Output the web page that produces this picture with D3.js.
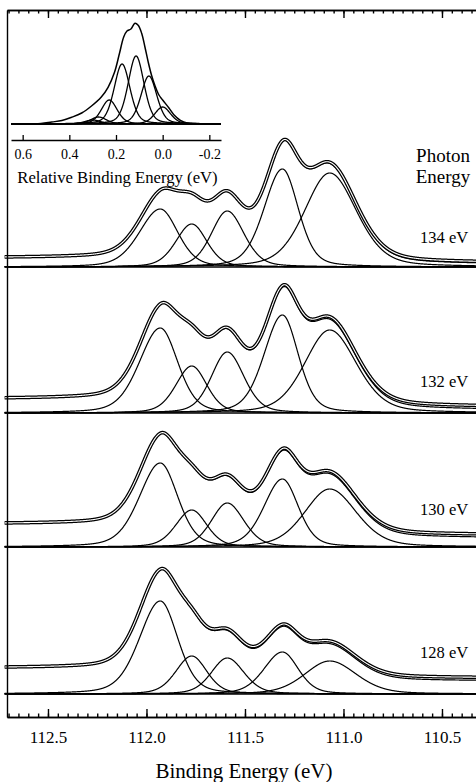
<!DOCTYPE html>
<html>
<head>
<meta charset="utf-8">
<script src="https://cdn.jsdelivr.net/npm/d3@7"></script>
<style>
  body { margin: 0; background: #fff; }
  text { font-family: "Liberation Serif", "Times New Roman", serif; fill: #000; }
</style>
</head>
<body>
<div id="chart"></div>
<script>
// spectra, top to bottom
var photonLabels = ["134 eV", "132 eV", "130 eV", "128 eV"];
// baseline of each spectrum in the stacked intensity scale
var offsets = [450, 304, 170, 23];

// fitted components: centre (eV), half widths (eV) on the high and low BE side
var peakPos = [111.93, 111.77, 111.59, 111.31, 111.07];
var peakHWHigh = [0.125, 0.095, 0.095, 0.11, 0.15];
var peakHWLow = [0.105, 0.09, 0.10, 0.095, 0.16];
var lorentzPart = 0.3;

// component heights
var heights134 = [58, 43, 56, 98, 94];
var heights132 = [85, 47, 61, 98, 83];
var heights130 = [84, 37, 44, 68, 58];
var heights128 = [93, 38, 36, 42, 33];
var panelHeights = [heights134, heights132, heights130, heights128];

// background level on the high and low binding energy side
var bgHigh = [9, 14, 23, 26];
var bgLow = [4, 6, 12, 16];
// the fit total sits a little under the data on the low BE side
var fitGap = [1.5, 3, 3, 3];

// inset: vibrational components (relative BE, eV) and heights
var insetPos = [0.30, 0.275, 0.229, 0.174, 0.114, 0.059, 0.0];
var insetHeights = [4, 7, 24, 60, 68, 48, 17];
var insetHW = 0.04;
// inset envelope
var insetEnvR = [0.65, 0.545, 0.475, 0.432, 0.39, 0.347, 0.305, 0.263, 0.234, 0.206, 0.185, 0.167,
                 0.153, 0.136, 0.119, 0.105, 0.09, 0.076, 0.062, 0.048, 0.034, 0.016, 0.0, -0.027,
                 -0.048, -0.076, -0.105, -0.25];
var insetEnvH = [0, 0, 2, 3.5, 6.7, 11, 18, 27, 36.7, 52, 70.7, 87,
                 93, 95, 100.7, 98.7, 90.7, 77, 62, 49, 39, 29, 24, 16,
                 9.3, 3.7, 1, 0];

var mainTicks = [112.5, 112.0, 111.5, 111.0, 110.5];
var insetTicks = [0.6, 0.4, 0.2, 0.0, -0.2];

var W = 476, H = 782;
var mLeft = 7, mRight = 480, mTop = 10, mBottom = 717;
var serif = '"Liberation Serif", "Times New Roman", serif';

var svg = d3.select("#chart").append("svg")
    .attr("width", W)
    .attr("height", H);

var x = d3.scaleLinear()
    .domain([112.708, 110.307])
    .range([mLeft, mRight]);

var y = d3.scaleLinear()
    .domain([0, mBottom - mTop])
    .range([mBottom, mTop]);

function shape(d, hw) {
  var u = d / hw;
  return lorentzPart / (1 + u * u) + (1 - lorentzPart) * Math.exp(-Math.LN2 * u * u);
}

// energy grid, low BE to high BE
var grid = [];
for (var k = 0; k <= 2420; k++) grid.push(110.30 + k * 0.001);

var plot = svg.append("g");

var lineFor = function(off) {
  return d3.line()
    .x(function(d) { return x(d.e); })
    .y(function(d) { return y(off + d.v); });
};

panelHeights.forEach(function(hs, i) {
  var off = offsets[i];
  var comps = hs.map(function(h, j) {
    return grid.map(function(e) {
      var d = e - peakPos[j];
      return { e: e, v: h * shape(d, d > 0 ? peakHWHigh[j] : peakHWLow[j]) };
    });
  });
  var sum = grid.map(function(e, k) {
    return d3.sum(comps, function(c) { return c[k].v; });
  });
  var cum = [], acc = 0;
  sum.forEach(function(v) { acc += v; cum.push(acc); });
  var data = sum.map(function(v, k) {
    return { e: grid[k], v: v + bgLow[i] + (bgHigh[i] - bgLow[i]) * cum[k] / acc };
  });
  var fit = sum.map(function(v, k) {
    var lo = bgLow[i] - fitGap[i];
    return { e: grid[k], v: v + lo + (bgHigh[i] - lo) * cum[k] / acc };
  });

  var g = plot.append("g");
  g.append("line")
    .attr("x1", mLeft).attr("x2", mRight)
    .attr("y1", y(off)).attr("y2", y(off))
    .attr("stroke", "#000").attr("stroke-width", 1.5);

  comps.forEach(function(c) {
    g.append("path").attr("d", lineFor(off)(c))
      .attr("fill", "none").attr("stroke", "#000").attr("stroke-width", 1.2);
  });
  g.append("path").attr("d", lineFor(off)(fit))
    .attr("fill", "none").attr("stroke", "#000").attr("stroke-width", 1.2);

  g.append("path").attr("d", lineFor(off)(data))
    .attr("fill", "none").attr("stroke", "#000").attr("stroke-width", 3.6);
  g.append("path").attr("d", lineFor(off)(data))
    .attr("fill", "none").attr("stroke", "#fff").attr("stroke-width", 1.1);

  g.append("text")
    .attr("x", 420)
    .attr("y", [243, 387, 515, 658][i])
    .attr("font-size", 16.5)
    .text(photonLabels[i]);
});

// frame: bottom axis with labels, top axis, left line
var minor = d3.range(0, 49).map(function(i) { return Math.round((110.30 + i * 0.05) * 100) / 100; })
  .filter(function(v) { return v > 110.307 && v < 112.708; });

svg.append("g")
  .attr("transform", "translate(0," + mBottom + ")")
  .call(d3.axisBottom(x).tickValues(minor).tickSize(-3.5).tickSizeOuter(0).tickFormat(""))
  .call(function(g) { g.selectAll("line,path").attr("stroke-width", 1.4); });

svg.append("g")
  .attr("transform", "translate(0," + mBottom + ")")
  .call(d3.axisBottom(x).tickValues(mainTicks).tickSize(-8).tickSizeOuter(0).tickPadding(14)
        .tickFormat(function(d) { return d.toFixed(1); }))
  .call(function(g) {
    g.attr("font-family", serif);
    g.selectAll("line,path").attr("stroke-width", 1.4);
    g.selectAll("text").attr("font-size", 17);
  });

svg.append("g")
  .attr("transform", "translate(0," + mTop + ")")
  .call(d3.axisTop(x).tickValues(minor).tickSize(-3.5).tickSizeOuter(0).tickFormat(""))
  .call(function(g) { g.selectAll("line,path").attr("stroke-width", 1.4); });

svg.append("g")
  .attr("transform", "translate(0," + mTop + ")")
  .call(d3.axisTop(x).tickValues(mainTicks).tickSize(-8).tickSizeOuter(0).tickFormat(""))
  .call(function(g) { g.selectAll("line,path").attr("stroke-width", 1.4); });

svg.append("g")
  .attr("transform", "translate(" + mLeft + ",0)")
  .call(d3.axisLeft(y).tickValues([]).tickSizeOuter(0))
  .call(function(g) { g.selectAll("path").attr("stroke-width", 1.4); });

svg.append("text")
  .attr("x", 244).attr("y", 778)
  .attr("text-anchor", "middle")
  .attr("font-size", 21)
  .text("Binding Energy (eV)");

svg.append("text")
  .attr("x", 443).attr("y", 162)
  .attr("text-anchor", "middle")
  .attr("font-size", 19)
  .text("Photon");
svg.append("text")
  .attr("x", 443).attr("y", 183)
  .attr("text-anchor", "middle")
  .attr("font-size", 19)
  .text("Energy");

// inset
var rx = d3.scaleLinear().domain([0.65, -0.25]).range([11, 221]);
var ry = d3.scaleLinear().domain([0, 110]).range([124, 14]);
var inset = svg.append("g");
var rgrid = [];
for (var k2 = 0; k2 <= 900; k2++) rgrid.push(0.65 - k2 * 0.001);

var rline = d3.line().x(function(d) { return rx(d.r); }).y(function(d) { return ry(d.v); });

inset.append("line")
  .attr("x1", 11).attr("x2", 221)
  .attr("y1", ry(0)).attr("y2", ry(0))
  .attr("stroke", "#000").attr("stroke-width", 1.6);

insetPos.forEach(function(p, j) {
  var pts = rgrid.map(function(r) { return { r: r, v: insetHeights[j] * shape(r - p, insetHW) }; });
  inset.append("path").attr("d", rline(pts))
    .attr("fill", "none").attr("stroke", "#000").attr("stroke-width", 1.3);
});

var env = insetEnvR.map(function(r, k) { return { r: r, v: insetEnvH[k] }; });
inset.append("path")
  .attr("d", rline.curve(d3.curveCatmullRom)(env))
  .attr("fill", "none").attr("stroke", "#000").attr("stroke-width", 1.5);

inset.append("g")
  .attr("transform", "translate(0,140)")
  .call(d3.axisBottom(rx).tickValues(insetTicks).tickSize(-5).tickSizeOuter(0).tickPadding(9.5)
        .tickFormat(function(d) { return d === 0 ? "0.0" : d.toFixed(1); }))
  .call(function(g) {
    g.attr("font-family", serif);
    g.selectAll("line,path").attr("stroke-width", 1.3);
    g.selectAll("text").attr("font-size", 14);
  });

inset.append("text")
  .attr("x", 117.5).attr("y", 183)
  .attr("text-anchor", "middle")
  .attr("font-size", 16.7)
  .text("Relative Binding Energy (eV)");
</script>
</body>
</html>
